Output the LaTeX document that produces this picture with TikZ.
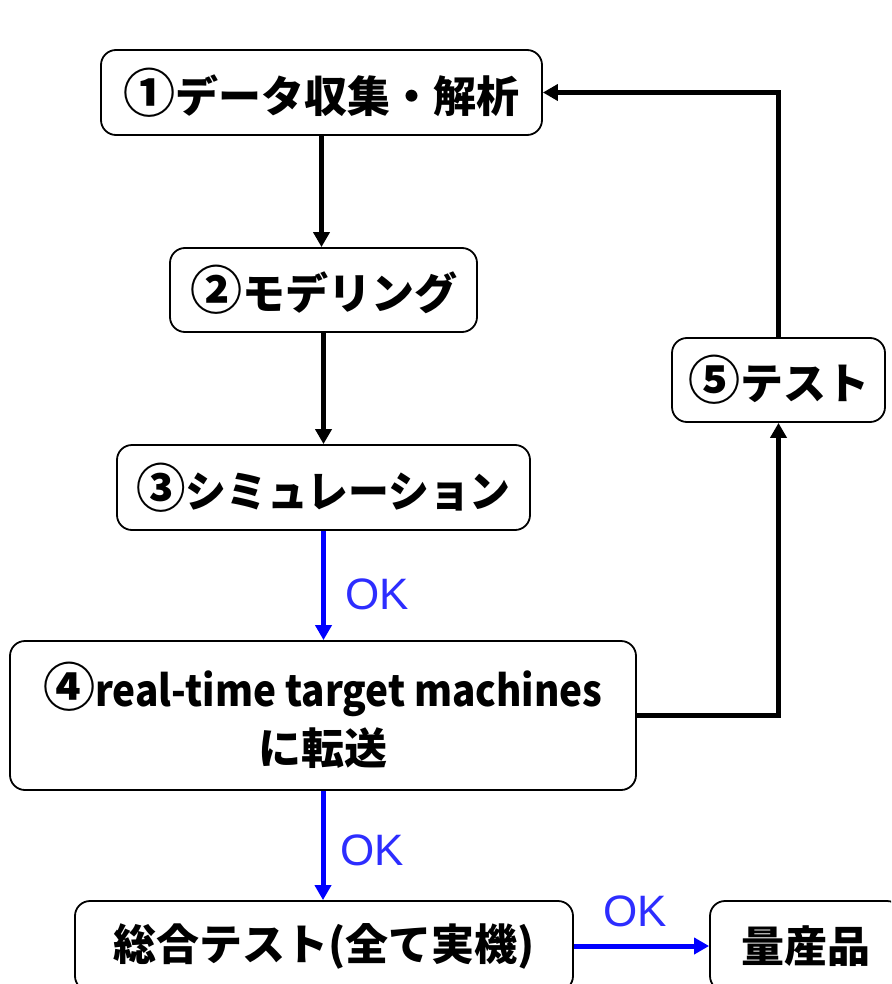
\documentclass[tikz,border=0pt]{standalone}
\usepackage{fontspec}
\newfontfamily\jp{Noto Sans CJK JP}
\newfontfamily\oksans{Liberation Sans}
\usetikzlibrary{arrows.meta}
\definecolor{okblue}{RGB}{45,45,255}
\newcommand{\cnum}[1]{{\fontsize{52}{56}\selectfont #1}}
\tikzset{
  box/.style={draw=black, line width=1.8pt, rounded corners=15pt, fill=white, inner sep=0pt, align=center,
    font=\jp\bfseries\fontsize{43}{58}\selectfont},
  blk/.style={line width=5pt, -{Triangle[width=16pt,length=15pt]}, draw=black},
  blu/.style={line width=5pt, -{Triangle[width=16pt,length=15pt]}, draw=blue},
  oklab/.style={text=okblue, font=\oksans\fontsize{44}{48}\selectfont, inner sep=0pt}
}
\begin{document}
\begin{tikzpicture}[x=1pt,y=-1pt]
\clip (0,0) rectangle (891,984);
\fill[white] (0,0) rectangle (891,984);
\node[box, minimum width=441pt, minimum height=85pt] (b1) at (321.5,92.5) {\cnum{①}データ収集・解析};
\node[box, minimum width=307pt, minimum height=84pt] (b2) at (323.5,290) {\cnum{②}モデリング};
\node[box, minimum width=413pt, minimum height=85pt] (b3) at (323.5,487.5) {\scalebox{0.95}[1]{\cnum{③}シミュレーション}};
\node[box, minimum width=626pt, minimum height=149pt] (b4) at (323,715.5) {\cnum{④}\scalebox{0.9}[1]{real-time target machines}\\に転送};
\node[box, minimum width=213pt, minimum height=84pt] (b5) at (778.5,380) {\cnum{⑤}テスト};
\node[box, minimum width=498pt, minimum height=90pt] (b6) at (324,946) {総合テスト(全て実機)};
\node[box, minimum width=192pt, minimum height=90pt] (b7) at (806,946) {量産品};
\draw[blk] (b1.south) -- (b1.south |- b2.north);
\draw[blk] (b2.south) -- (b2.south |- b3.north);
\draw[blu] (b3.south) -- (b3.south |- b4.north);
\draw[blu] (b4.south) -- (b4.south |- b6.north);
\draw[blu] (b6.east) -- (b7.west);
\draw[blk] (b4.east) -| (b5.south);
\draw[blk] (b5.north) |- (b1.east);
\node[oklab] (ok1) at (377,594) {OK};
\node[oklab] (ok2) at (372,850) {OK};
\node[oklab] (ok3) at (635,911) {OK};
\end{tikzpicture}
\end{document}
